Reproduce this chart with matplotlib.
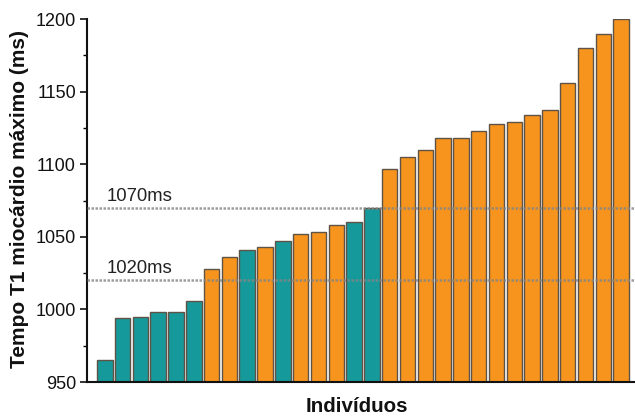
import matplotlib
matplotlib.use("Agg")
import matplotlib.pyplot as plt
from matplotlib.ticker import MultipleLocator

values = [965, 994, 995, 998, 998, 1006, 1028, 1036, 1041, 1043, 1047, 1052, 1053,
          1058, 1060, 1070, 1097, 1105, 1110, 1118, 1118, 1123, 1128, 1129, 1134,
          1137, 1156, 1180, 1190, 1200]
groups = ["t", "t", "t", "t", "t", "t", "o", "o", "t", "o", "t", "o", "o",
          "o", "t", "t", "o", "o", "o", "o", "o", "o", "o", "o", "o",
          "o", "o", "o", "o", "o"]
ref_values = [1070, 1020]
ref_labels = ["1070ms", "1020ms"]
yticks = [950, 1000, 1050, 1100, 1150, 1200]

colors = {"t": "#16999a", "o": "#f7941e"}

plt.rcParams['font.family'] = ['Liberation Sans', 'DejaVu Sans']

fig = plt.figure(figsize=(6.35, 4.16), dpi=100)
ax = fig.add_axes([87/635, 1 - 382/416, 1 - 87/635, (382 - 19)/416])

x = list(range(len(values)))
ax.bar(x, [v - 950 for v in values], bottom=950, width=0.87,
       color=[colors[g] for g in groups], edgecolor="#5e5346", linewidth=1.0, zorder=2)

for rv, rl in zip(ref_values, ref_labels):
    ax.axhline(rv, color="#858585", linestyle=(0, (1, 0.6)), linewidth=1.8, alpha=0.8, zorder=3)
    ax.text(0.1, rv + 2, rl, fontsize=13.3, color="#222222", ha="left", va="bottom", zorder=4)

ax.set_xlim(-1.0, 29.78)
ax.set_ylim(950, 1200)
ax.set_yticks(yticks)
ax.yaxis.set_minor_locator(MultipleLocator(25))
ax.set_xticks([])
ax.tick_params(axis="y", which="major", length=5, width=1.2, labelsize=13, pad=3, colors="#111111")
ax.tick_params(axis="y", which="minor", length=3, width=1.0)
for s in ["top", "right"]:
    ax.spines[s].set_visible(False)
ax.spines["left"].set_linewidth(1.5)
ax.spines["bottom"].set_linewidth(1.5)
ax.spines["left"].set_color("#111111")
ax.spines["bottom"].set_color("#111111")

fig.text(20/635, 1 - 198.5/416, "Tempo T1 miocárdio máximo (ms)", fontsize=15,
         fontweight="bold", rotation=90, ha="center", va="center", color="#111111")
fig.text(357/635, 1 - 407/416, "Indivíduos", fontsize=14.8, fontweight="bold",
         ha="center", va="center", color="#111111")

fig.savefig("out.png", dpi=100)
